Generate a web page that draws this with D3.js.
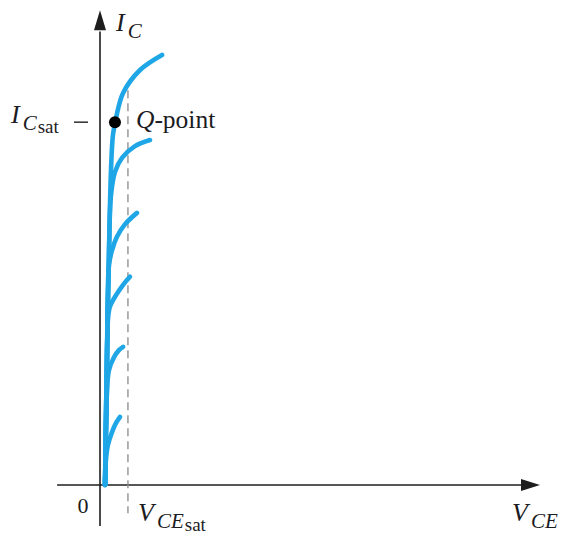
<!DOCTYPE html>
<html>
<head>
<meta charset="utf-8">
<script src="https://cdn.jsdelivr.net/npm/d3@7"></script>
<style>
  html, body { margin: 0; padding: 0; background: #fff; }
  svg { display: block; }
  text { font-family: "Liberation Serif", "DejaVu Serif", serif; fill: #1b1b22; }
</style>
</head>
<body>
<svg id="chart" width="562" height="536"></svg>
<script>
// Collector characteristics (V_CE in volts, I_C in mA), one array per base-current level.
const curve1 = [[0.23, 0], [0.27, 0.53], [0.36, 0.85], [0.55, 1.13], [0.73, 1.32], [0.91, 1.45]];
const curve2 = [[0.23, 0], [0.32, 2.02], [0.41, 2.45], [0.64, 2.72], [0.86, 2.87], [1.05, 2.94]];
const curve3 = [[0.23, 0], [0.32, 2.23], [0.36, 3.51], [0.45, 3.79], [0.73, 4.04], [1.05, 4.26], [1.36, 4.43]];
const curve4 = [[0.23, 0], [0.32, 2.87], [0.41, 4.68], [0.55, 5.0], [0.77, 5.28], [1.14, 5.55], [1.68, 5.79]];
const curve5 = [[0.23, 0], [0.32, 2.87], [0.41, 5.0], [0.5, 6.17], [0.68, 6.66], [1.0, 6.96], [1.59, 7.21], [2.27, 7.34]];
const curve6 = [[0.23, 0], [0.32, 2.87], [0.41, 5.0], [0.5, 6.7], [0.59, 7.45], [0.73, 7.81], [1.05, 8.34], [1.82, 8.83], [2.82, 9.15]];
const curves = [curve1, curve2, curve3, curve4, curve5, curve6];

// Saturation operating point
const vceSat = 1.27;
const icSat = 7.72;
const qPoint = [0.68, icSat];

const svg = d3.select("#chart");

// Scales: origin of the plot at (100, 485)
const x = d3.scaleLinear().domain([0, 20]).range([100, 540]);
const y = d3.scaleLinear().domain([0, 10]).range([485, 15]);

const axisColor = "#1e1e1e";

// Horizontal axis (extends a little left of the origin) with arrow head
svg.append("line")
  .attr("x1", x(-1.95)).attr("x2", x(19.3))
  .attr("y1", y(0)).attr("y2", y(0))
  .attr("stroke", axisColor).attr("stroke-width", 1.6);
svg.append("path")
  .attr("d", d3.line()([[x(20), y(0)], [x(20) - 19, y(0) - 6], [x(20) - 19, y(0) + 6]]) + "Z")
  .attr("fill", axisColor);

// Vertical axis (extends a little below the origin) with arrow head
svg.append("line")
  .attr("x1", x(0)).attr("x2", x(0))
  .attr("y1", y(-0.87)).attr("y2", y(9.65))
  .attr("stroke", axisColor).attr("stroke-width", 1.6);
svg.append("path")
  .attr("d", d3.line()([[x(0), y(10.1)], [x(0) - 6, y(10.1) + 20], [x(0) + 6, y(10.1) + 20]]) + "Z")
  .attr("fill", axisColor);

// Dashed V_CE(sat) marker
svg.append("line")
  .attr("x1", x(vceSat)).attr("x2", x(vceSat))
  .attr("y1", y(8.4)).attr("y2", y(-0.6))
  .attr("stroke", "#8a8a8a").attr("stroke-width", 1.3)
  .attr("stroke-dasharray", "8,5");

// Characteristic curves
const line = d3.line()
  .x(d => x(d[0]))
  .y(d => y(d[1]))
  .curve(d3.curveCatmullRom.alpha(0.5));

svg.append("g")
  .selectAll("path")
  .data(curves)
  .join("path")
  .attr("d", line)
  .attr("fill", "none")
  .attr("stroke", "#1ea6e6")
  .attr("stroke-width", 4.6)
  .attr("stroke-linecap", "round")
  .attr("stroke-linejoin", "round");

// I_C(sat) tick on the vertical axis
svg.append("line")
  .attr("x1", x(0) - 26).attr("x2", x(0) - 12)
  .attr("y1", y(icSat)).attr("y2", y(icSat))
  .attr("stroke", axisColor).attr("stroke-width", 1.4);

// Q-point
svg.append("circle")
  .attr("cx", x(qPoint[0])).attr("cy", y(qPoint[1]))
  .attr("r", 6).attr("fill", "#000");

// Labels
function subLabel(px, py, main, sub, sat) {
  const t = svg.append("text").attr("x", px).attr("y", py);
  t.append("tspan").attr("font-style", "italic").attr("font-size", 26).text(main);
  t.append("tspan").attr("font-style", "italic").attr("font-size", 21).attr("dx", 3).attr("dy", 7).text(sub);
  if (sat) {
    t.append("tspan").attr("font-size", 19).attr("dx", 1).attr("dy", 3).text(sat);
  }
  return t;
}

subLabel(116, 31, "I", "C");
subLabel(11, 123, "I", "C", "sat");
subLabel(138, 521, "V", "CE", "sat");
subLabel(512, 521, "V", "CE");

const q = svg.append("text").attr("x", x(qPoint[0]) + 21).attr("y", 128).attr("font-size", 25.5);
q.append("tspan").attr("font-style", "italic").text("Q");
q.append("tspan").text("-point");

svg.append("text")
  .attr("x", 83).attr("y", 513)
  .attr("text-anchor", "middle")
  .attr("font-size", 22)
  .text("0");
</script>
</body>
</html>
